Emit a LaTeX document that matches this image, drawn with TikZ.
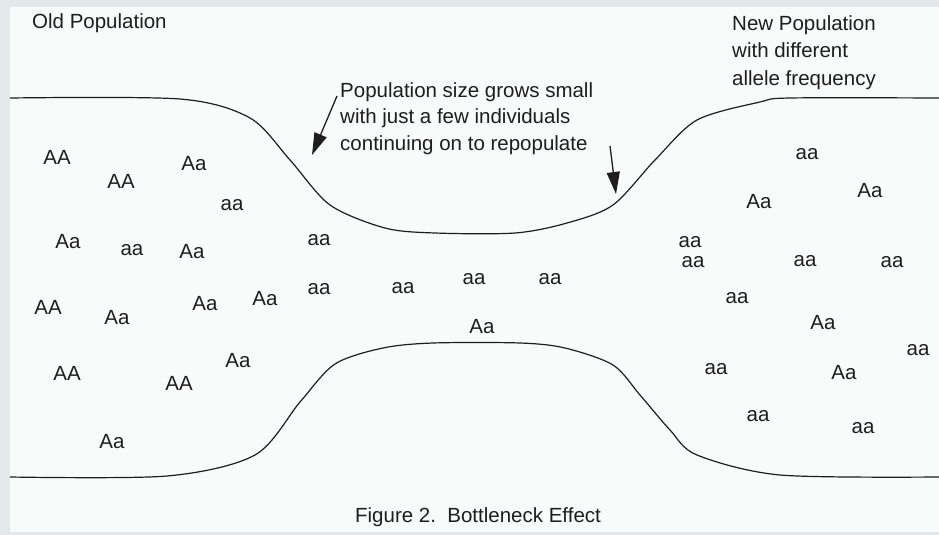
\documentclass[tikz,border=0pt]{standalone}
\usepackage{fontspec}
\setmainfont{Liberation Sans}
\usetikzlibrary{arrows.meta,positioning}
\definecolor{frame}{HTML}{E3E9E8}
\definecolor{paper}{HTML}{F7FBF9}
\definecolor{ink}{HTML}{1E1E1E}
\tikzset{
        gene/.style = {text=ink, inner sep=0pt,
            font=\fontsize{20.5}{25}\selectfont},
        note/.style = {text=ink, inner sep=0pt, align=left, anchor=west,
            font=\fontsize{20.5}{26.5}\selectfont},
        wall/.style = {draw=ink, line width=1.2pt},
        pointer/.style = {draw=ink, line width=1.3pt,
            -{Triangle[length=22pt,width=13pt]}},
    }

\begin{document}
\begin{tikzpicture}[x=1pt, y=-1pt]
		\useasboundingbox (0,0) rectangle (939,535);
		\fill[frame] (0,0) rectangle (939,535);
		\fill[paper] (10,7) rectangle (939,532);
		% the two walls of the bottleneck
		\draw[wall] plot[smooth, tension=0.5] coordinates {(10,98) (180,99) (250,118) (290,160) (330,205) (385,228) (435,233) (515,233) (567,223) (613,205) (655,160) (697,120) (760,102) (790,98) (939,98)};
		\draw[wall] plot[smooth, tension=0.5] coordinates {(10,477) (167,476) (255,455) (300,402) (335,364) (383,348) (433,343) (520,343) (565,348) (613,365) (640,395) (670,430) (697,455) (780,475) (939,477)};
		% texts
		\node[note]    (OldPop)  at (32,23)     {Old Population};
		\node[note, font=\fontsize{20.5}{27.5}\selectfont]    (NewPop)  at (732,52.5)  {New Population\\with different\\allele frequency};
		\node[note]    (Shrink)  at (340,118.5) {Population size grows small\\with just a few individuals\\continuing on to repopulate};
		\node[gene]    (Caption) at (478,517)   {Figure 2.\ \ Bottleneck Effect};
		\coordinate (tailL) at (337,96);
		\coordinate (tipL)  at (312,155);
		\coordinate (tailR) at (610,146);
		\coordinate (tipR)  at (616,194);
		\path[pointer] (tailL) -- (tipL);
		\path[pointer] (tailR) -- (tipR);
		% old population
		\node[gene] (l1)  at (57,157)  {AA};
		\node[gene] (l2)  at (121,181) {AA};
		\node[gene] (l3)  at (194,164) {Aa};
		\node[gene] (l4)  at (232,205) {aa};
		\node[gene] (l5)  at (68,242)  {Aa};
		\node[gene] (l6)  at (132,250) {aa};
		\node[gene] (l7)  at (192,252) {Aa};
		\node[gene] (l8)  at (48,307)  {AA};
		\node[gene] (l9)  at (117,318) {Aa};
		\node[gene] (l10) at (205,304) {Aa};
		\node[gene] (l11) at (265,299) {Aa};
		\node[gene] (l12) at (67,373)  {AA};
		\node[gene] (l13) at (179,383) {AA};
		\node[gene] (l14) at (238,361) {Aa};
		\node[gene] (l15) at (112,442) {Aa};
		% through the neck
		\node[gene] (m1)  at (319,240) {aa};
		\node[gene] (m2)  at (319,289) {aa};
		\node[gene] (m3)  at (403,288) {aa};
		\node[gene] (m4)  at (474,279) {aa};
		\node[gene] (m5)  at (550,279) {aa};
		\node[gene] (m6)  at (482,327) {Aa};
		% new population
		\node[gene] (r1)  at (807,154) {aa};
		\node[gene] (r2)  at (870,191) {Aa};
		\node[gene] (r3)  at (759,202) {Aa};
		\node[gene] (r4)  at (690,242) {aa};
		\node[gene] (r5)  at (693,262) {aa};
		\node[gene] (r6)  at (805,261) {aa};
		\node[gene] (r7)  at (892,262) {aa};
		\node[gene] (r8)  at (737,298) {aa};
		\node[gene] (r9)  at (823,323) {Aa};
		\node[gene] (r10) at (918,350) {aa};
		\node[gene] (r11) at (716,369) {aa};
		\node[gene] (r12) at (844,373) {Aa};
		\node[gene] (r13) at (758,416) {aa};
		\node[gene] (r14) at (863,428) {aa};
		\end{tikzpicture}
\end{document}
